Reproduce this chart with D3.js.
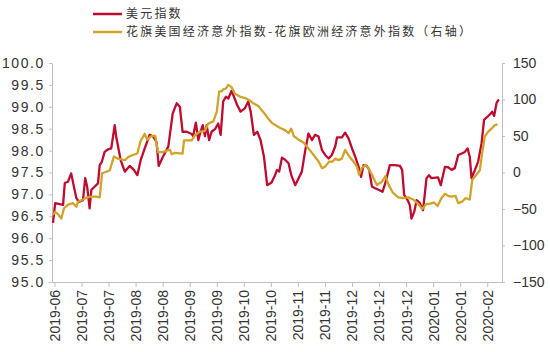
<!DOCTYPE html>
<html>
<head>
<meta charset="utf-8" />
<title>美元指数</title>
<script src="https://d3js.org/d3.v7.min.js"></script>
<style>
  body { margin: 0; background: #fff; }
  svg text { font-family: "Liberation Sans", Arial, sans-serif; fill: #333; }
  .legend text { font-family: "Noto Sans CJK SC", sans-serif; }
</style>
</head>
<body>
<svg width="550" height="352"></svg>
<script>
// x axis labels (one per tick, every 11 trading days)
var tickLabels = ["2019-06","2019-07","2019-07","2019-08","2019-08","2019-09","2019-09",
  "2019-10","2019-10","2019-11","2019-11","2019-12","2019-12","2019-12",
  "2020-01","2020-01","2020-02"];

// 美元指数 : trading-day index and value
var usdDay = [0.4,1.3,3.1,4.5,5.2,6.5,7.8,8.9,9.9,10.9,12.6,13.5,14.3,15.3,16.0,17.4,18.7,19.4,20.3,21.4,
  22.8,24.1,25.5,26.1,27.9,29.6,31.6,33.3,34.7,36.1,37.7,39.7,41.1,42.5,43.4,45.1,47.3,49.1,50.7,52.0,
  53.1,54.8,56.8,57.4,58.5,59.5,60.4,61.3,62.2,62.9,63.9,64.9,66.3,67.6,68.6,69.6,70.7,71.7,73.0,74.0,
  75.3,76.7,78.5,79.8,80.8,82.1,83.5,84.8,86.2,87.5,89.3,90.7,91.5,92.4,93.5,94.8,96.2,97.3,98.9,100.3,
  101.6,103.0,104.3,105.7,107.0,108.4,109.8,111.1,112.5,113.8,115.2,115.9,117.9,119.2,120.6,122.0,123.3,124.7,125.7,126.7,
  128.0,129.0,130.1,131.4,133.0,134.4,135.5,136.9,137.4,139.4,141.5,142.4,143.2,144.6,145.5,146.2,147.3,148.3,149.6,150.9,
  152.3,153.3,154.3,157.0,158.1,159.8,161.1,162.5,163.8,165.2,166.8,167.9,169.0,169.9,170.6,172.0,173.3,174.7,175.7,177.4,
  178.5,179.0,179.8,180.8,181.7];
var usdVal = [96.35,96.80,96.78,96.76,97.26,97.29,97.48,97.18,96.92,96.83,96.87,97.37,97.18,96.68,97.10,97.18,97.25,97.67,97.75,97.97,
  98.03,98.05,98.58,98.32,97.79,97.52,97.65,97.56,97.44,97.79,98.05,98.36,98.32,98.20,97.65,97.86,98.09,98.85,99.08,99.00,
  98.43,98.43,98.38,98.33,98.64,98.24,98.43,98.58,98.33,98.58,98.24,98.43,98.49,98.62,98.36,99.12,99.23,99.19,99.36,99.23,
  99.04,98.89,98.97,99.12,98.89,98.36,98.43,98.24,97.86,97.21,97.27,97.44,97.56,97.52,97.84,97.79,97.71,97.44,97.21,97.37,
  97.52,98.01,98.39,98.24,98.36,98.32,98.01,97.90,97.82,97.90,98.10,98.30,98.30,98.41,98.28,98.05,97.86,97.63,97.40,97.67,
  97.65,97.56,97.18,97.14,97.10,97.06,97.25,97.56,97.67,97.67,97.65,97.56,96.99,96.87,96.76,96.45,96.60,96.87,96.80,96.64,
  97.37,97.44,97.37,97.39,97.21,97.63,97.62,97.56,97.60,97.90,97.94,97.97,98.05,97.86,97.37,97.56,97.75,98.17,98.70,98.79,
  98.85,98.89,98.79,99.09,99.17];

// 花旗美国经济意外指数-花旗欧洲经济意外指数 (right axis)
var csiDay = [0.4,1.3,2.4,3.8,4.9,6.5,8.5,9.9,10.6,12.6,14.3,16.0,18.0,19.4,20.4,22.1,23.5,25.2,26.8,28.2,
  29.8,30.9,32.9,34.7,36.1,37.7,38.7,40.4,42.0,43.1,45.1,46.6,48.0,48.7,50.0,53.1,53.7,56.8,58.1,60.2,
  62.2,63.5,65.6,67.0,68.0,69.0,69.6,70.7,71.7,73.0,74.4,76.4,78.5,80.2,81.8,83.9,85.9,87.9,89.4,90.8,
  92.8,94.8,96.2,97.3,98.3,100.3,102.3,104.3,106.4,108.4,109.8,111.1,112.7,114.1,115.2,116.5,117.9,119.2,120.9,122.6,
  124.0,124.9,126.0,127.4,128.7,130.1,132.1,134.1,135.6,136.9,138.7,140.8,142.8,144.8,146.9,148.9,150.5,152.3,153.7,155.4,
  156.8,158.4,159.8,161.1,162.5,164.1,165.2,166.8,168.2,169.9,170.9,172.6,174.0,174.9,176.0,177.4,178.7,180.1,181.2];
var csiVal = [-58,-54,-57,-63,-49,-44,-42,-47,-40,-37,-34,-33,-33,-34,-1,1,3,22,19,18,
  17,21,24,26,44,53,45,50,50,28,28,30,31,25,27,26,44,44,51,56,
  57,67,70,83,111,111,114,115,120,117,108,104,102,99,95,91,83,74,68,65,
  61,58,54,60,50,45,41,33,24,15,6,8,15,15,19,17,19,31,22,15,
  8,-3,6,10,6,-3,-17,-13,-5,-17,-28,-34,-35,-34,-37,-43,-50,-43,-43,-41,
  -46,-35,-29,-32,-33,-32,-42,-40,-35,-37,-10,-3,3,26,49,56,60,65,66];

var svg = d3.select('svg');
var margin = {top: 63, right: 48, bottom: 70, left: 52};
var width = +svg.attr('width'), height = +svg.attr('height');
var x0 = margin.left, x1 = width - margin.right;
var y0 = height - margin.bottom, y1 = margin.top;

var xscale = d3.scaleLinear().domain([0, 183]).range([x0, x1]);
var yleft = d3.scaleLinear().domain([95, 100]).range([y0, y1]);
var yright = d3.scaleLinear().domain([-150, 150]).range([y0, y1]);

var axisColor = '#bfbfbf';

// left axis
var leftG = svg.append('g').attr('transform', 'translate(' + x0 + ',0)')
  .call(d3.axisLeft(yleft).tickValues(d3.range(95, 100.001, 0.5))
    .tickFormat(d3.format('.1f')).tickSize(3).tickSizeOuter(0).tickPadding(4));
leftG.selectAll('text').style('font-size', '14px').style('letter-spacing', '1.6px');

// right axis
var rightG = svg.append('g').attr('transform', 'translate(' + x1 + ',0)')
  .call(d3.axisRight(yright).tickValues(d3.range(-150, 151, 50))
    .tickSize(3).tickSizeOuter(0).tickPadding(8));
rightG.selectAll('text').style('font-size', '14px');

// bottom axis
var xticks = d3.range(tickLabels.length).map(function(k) { return 1 + 11 * k; });
var bottomG = svg.append('g').attr('transform', 'translate(0,' + y0 + ')')
  .call(d3.axisBottom(xscale).tickValues(xticks)
    .tickFormat(function(d, i) { return tickLabels[i]; })
    .tickSize(5).tickSizeOuter(0));
bottomG.selectAll('text')
  .attr('transform', 'rotate(-90)')
  .attr('x', -8).attr('y', 0).attr('dy', '0.35em')
  .style('text-anchor', 'end').style('font-size', '14px');

svg.selectAll('.domain, .tick line').attr('stroke', axisColor);
svg.selectAll('.tick text').attr('fill', '#333');

// lines
var usd = usdDay.map(function(d, i) { return {day: d, v: usdVal[i]}; });
var csi = csiDay.map(function(d, i) { return {day: d, v: csiVal[i]}; });

svg.append('path').datum(usd)
  .attr('fill', 'none').attr('stroke', '#be0b2f').attr('stroke-width', 2.3)
  .attr('stroke-linejoin', 'round')
  .attr('d', d3.line().x(function(d) { return xscale(d.day); }).y(function(d) { return yleft(d.v); }));

svg.append('path').datum(csi)
  .attr('fill', 'none').attr('stroke', '#d2a32a').attr('stroke-width', 2.3)
  .attr('stroke-linejoin', 'round')
  .attr('d', d3.line().x(function(d) { return xscale(d.day); }).y(function(d) { return yright(d.v); }));

// legend
var legend = svg.append('g').attr('class', 'legend');
var items = [
  {name: '美元指数', color: '#be0b2f'},
  {name: '花旗美国经济意外指数-花旗欧洲经济意外指数（右轴）', color: '#d2a32a'}
];
items.forEach(function(it, i) {
  var y = 14 + i * 18;
  legend.append('line').attr('x1', 93).attr('x2', 122).attr('y1', y).attr('y2', y)
    .attr('stroke', it.color).attr('stroke-width', 2.5);
  legend.append('text').attr('x', 126).attr('y', y).attr('dy', '0.35em')
    .style('font-size', '12px').style('letter-spacing', '2.2px').text(it.name);
});
</script>
</body>
</html>
